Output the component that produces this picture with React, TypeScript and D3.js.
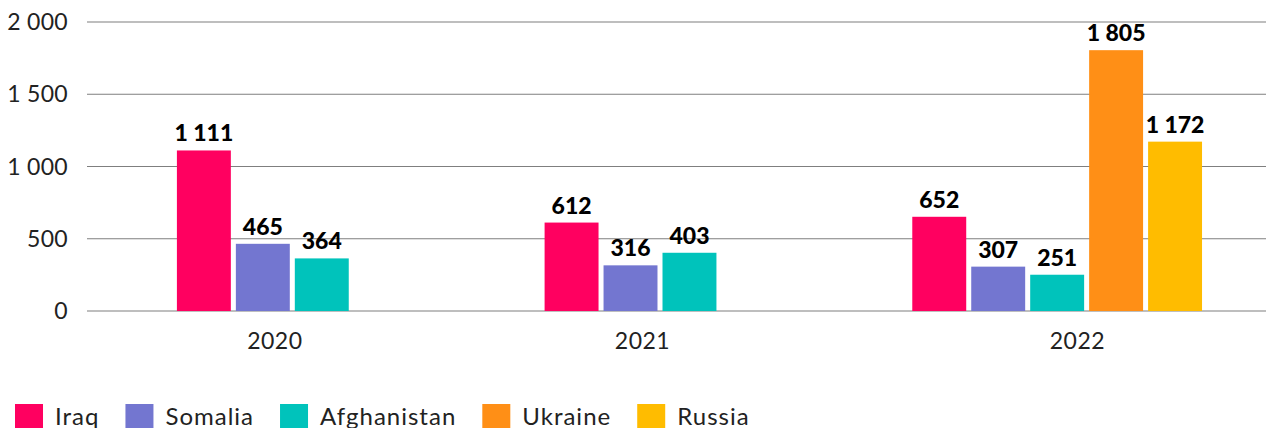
import React, { useMemo } from "react";
import * as d3 from "d3";

const categories = ["2020", "2021", "2022"];
const seriesNames = ["Iraq", "Somalia", "Afghanistan", "Ukraine", "Russia"];
const iraq = [1111, 612, 652];
const somalia = [465, 316, 307];
const afghanistan = [364, 403, 251];
const ukraine: (number | null)[] = [null, null, 1805];
const russia: (number | null)[] = [null, null, 1172];
const seriesValues = [iraq, somalia, afghanistan, ukraine, russia];
const colors = ["#FF0060", "#7376D0", "#00C3BB", "#FF8F16", "#FFBC00"];
const yTicks = [0, 500, 1000, 1500, 2000];

const W = 1266;
const H = 428;
const FONT = "Lato, 'Open Sans', sans-serif";

const fmt = (v: number) => d3.format(",")(v).replace(/,/g, " ");

export default function App() {
  const leftPad = 1.525;
  const groupGap = 3.237;
  const rightPad = 1.0;
  const barFrac = 0.915;

  const groups = categories.map((c, ci) => {
    const bars = seriesValues
      .map((vals, si) => ({ si, v: vals[ci] }))
      .filter((b) => b.v !== null && b.v !== undefined) as { si: number; v: number }[];
    return { c, bars };
  });
  let cursor = leftPad;
  const laid = groups.map((g, gi) => {
    const start = cursor;
    const bars = g.bars.map((b, k) => ({ ...b, u: start + k }));
    cursor = start + g.bars.length + (gi < groups.length - 1 ? groupGap : 0);
    return { ...g, start, bars };
  });
  const total = cursor + rightPad;

  const x = d3.scaleLinear().domain([0, total]).range([87, W]);
  const y = d3.scaleLinear().domain([0, 2000]).range([311, 22]);
  const unit = x(1) - x(0);

  const LS = 1.0;
  const legendLayout = useMemo(() => {
    const canvas = document.createElement("canvas");
    const ctx = canvas.getContext("2d")!;
    ctx.font = `24px ${FONT}`;
    let px = 15;
    return seriesNames.map((n) => {
      const w = ctx.measureText(n).width + LS * n.length;
      const item = { n, x: px };
      px += 40 + w + 26;
      return item;
    });
  }, []);

  return (
    <svg
      width={W}
      height={H}
      style={{ position: "absolute", left: 0, top: 0, background: "#fff" }}
      fontFamily={FONT}
    >
      {yTicks.map((t) => (
        <g key={t}>
          <line x1={87} x2={W} y1={y(t)} y2={y(t)} stroke="#7f7f7f" strokeWidth={1.2} />
          <text
            x={68}
            y={y(t)}
            dy="0.35em"
            textAnchor="end"
            fontSize={23}
            fill="#222"
            letterSpacing={0.3}
          >
            {fmt(t)}
          </text>
        </g>
      ))}
      {laid.map((g) => (
        <g key={g.c}>
          {g.bars.map((b) => (
            <g key={b.si}>
              <rect
                x={x(b.u)}
                y={y(b.v)}
                width={unit * barFrac}
                height={y(0) - y(b.v)}
                fill={colors[b.si]}
              />
              <text
                x={x(b.u) + (unit * barFrac) / 2}
                y={y(b.v) - 9}
                textAnchor="middle"
                fontSize={23}
                fontWeight={900}
                fill="#000"
              >
                {fmt(b.v)}
              </text>
            </g>
          ))}
          <text
            x={x(g.start + 0.57 * (g.bars.length - 1 + barFrac))}
            y={349}
            textAnchor="middle"
            fontSize={23}
            fill="#222"
            letterSpacing={0.5}
          >
            {g.c}
          </text>
        </g>
      ))}
      {legendLayout.map((l, i) => (
        <g key={l.n}>
          <rect x={l.x} y={404} width={28} height={28} fill={colors[i]} />
          <text x={l.x + 40} y={425} fontSize={24} fill="#222" letterSpacing={LS}>
            {l.n}
          </text>
        </g>
      ))}
    </svg>
  );
}
